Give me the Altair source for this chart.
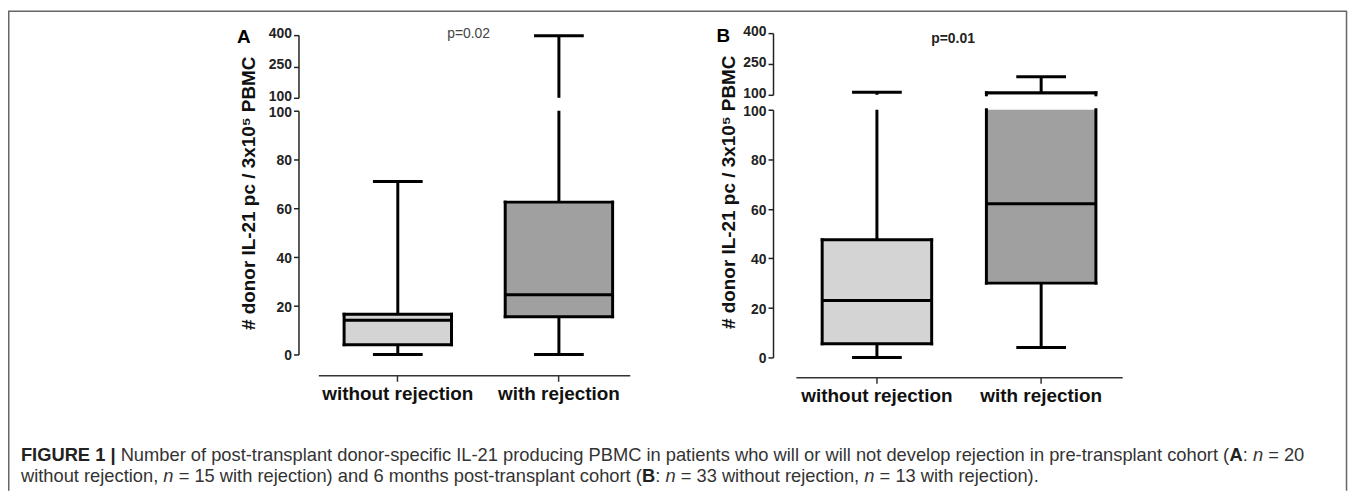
import altair as alt
import pandas as pd

# ---------------- data ----------------
categories = ["without rejection", "with rejection"]
box_fill = ["#d4d4d4", "#a0a0a0"]

a_min = [0, 0]
a_q1 = [4, 15.5]
a_median = [14, 24.5]
a_q3 = [16.5, 62.5]
a_max = [71, 397]

b_min = [0, 4]
b_q1 = [5.5, 30]
b_median = [23, 62]
b_q3 = [47.5, 110]
b_max = [113, 188]

lower_ticks = [0, 20, 40, 60, 80, 100]
upper_ticks = [100, 250, 400]
lower_domain = [0, 100]
upper_domain = [100, 400]
panel_letters = ["A", "B"]
p_values = ["p=0.02", "p=0.01"]
y_title = "# donor IL-21 pc / 3x10\u2075 PBMC"

caption_lines = [
    [("FIGURE 1 | ", "bold"),
     ("Number of post-transplant donor-specific IL-21 producing PBMC in patients who will or will not develop rejection in pre-transplant cohort (", "normal"),
     ("A", "bold"), (": ", "normal"), ("n", "italic"), (" = 20", "normal")],
    [("without rejection, ", "normal"), ("n", "italic"),
     (" = 15 with rejection) and 6 months post-transplant cohort (", "normal"),
     ("B", "bold"), (": ", "normal"), ("n", "italic"),
     (" = 33 without rejection, ", "normal"), ("n", "italic"),
     (" = 13 with rejection).", "normal")],
]

# ---------------- layout / style ----------------
FONT = "Liberation Sans, Arial, Helvetica, sans-serif"
W, H = 1348, 484

geo_a = dict(xr=[312, 625], pi=1 / 3, po=0.133, align=0.6,
             lower=[347, 102], upper=[89, 26], yaxis_x=292, xaxis_y=368)
geo_b = dict(xr=[792, 1120], pi=1 / 3, po=0.16, align=0.5,
             lower=[350, 101], upper=[86, 24], yaxis_x=769, xaxis_y=370)


def band_width(g):
    span = g["xr"][1] - g["xr"][0]
    step = span / (len(categories) - g["pi"] + 2 * g["po"])
    return step * (1 - g["pi"])


def build_segment(stats, lo, hi, g, yr, ticks, show_x, label_shift):
    mn, q1, med, q3, mx = stats
    bw = band_width(g)
    xscale = alt.Scale(type="band", domain=categories, range=g["xr"],
                       paddingInner=g["pi"], paddingOuter=g["po"], align=g["align"])
    if show_x:
        xaxis = alt.Axis(orient="bottom", offset=-(H - g["xaxis_y"]), title=None,
                         labelAngle=0, labelFont=FONT, labelFontSize=19,
                         labelFontWeight="bold", labelColor="#111", labelPadding=3,
                         domainColor="#333", domainWidth=1.5, tickColor="#333",
                         tickWidth=1.5, tickSize=6, grid=False)
    else:
        xaxis = None
    yscale = alt.Scale(domain=[lo, hi], range=yr, nice=False, zero=False)
    yaxis = alt.Axis(orient="left", offset=-g["yaxis_x"], values=ticks, title=None,
                     labelFont=FONT, labelFontSize=14, labelFontWeight="bold",
                     labelColor="#222", labelPadding=2, labelOverlap=False,
                     labelOffset=label_shift,
                     labelFlush=False, domainColor="#222", domainWidth=1.5,
                     tickColor="#222", tickWidth=1.5, tickSize=5, grid=False)

    def X(**kw):
        return alt.X("cat:N", scale=xscale, axis=xaxis, **kw)

    def Y(f):
        return alt.Y(f"{f}:Q", scale=yscale, axis=yaxis)

    boxes, edges, meds, whisk, caps = [], [], [], [], []
    for i, c in enumerate(categories):
        if q3[i] > lo and q1[i] < hi:
            boxes.append(dict(cat=c, y=max(q1[i], lo), y2=min(q3[i], hi), fill=box_fill[i]))
        for v in (q1[i], q3[i]):
            if lo <= v <= hi:
                edges.append(dict(cat=c, v=v))
        if lo <= med[i] <= hi:
            meds.append(dict(cat=c, v=med[i]))
        for a, b in ((mn[i], q1[i]), (q3[i], mx[i])):
            if b > lo and a < hi:
                whisk.append(dict(cat=c, y=max(a, lo), y2=min(b, hi)))
        for v in (mn[i], mx[i]):
            if lo <= v <= hi:
                caps.append(dict(cat=c, v=v))

    layers = []
    if boxes:
        bdf = pd.DataFrame(boxes)
        layers.append(alt.Chart(bdf).mark_bar(strokeWidth=0).encode(
            x=X(), y=Y("y"), y2=alt.Y2("y2:Q"), color=alt.Color("fill:N", scale=None)))
    if whisk:
        layers.append(alt.Chart(pd.DataFrame(whisk)).mark_rule(
            color="black", strokeWidth=3).encode(x=X(), y=Y("y"), y2=alt.Y2("y2:Q")))
    if boxes:
        for bp in (0, 1):
            layers.append(alt.Chart(bdf).mark_rule(
                color="black", strokeWidth=3, strokeCap="square").encode(
                x=X(bandPosition=bp), y=Y("y"), y2=alt.Y2("y2:Q")))
    if edges:
        layers.append(alt.Chart(pd.DataFrame(edges)).mark_tick(
            orient="horizontal", size=bw + 3, thickness=3, color="black", opacity=1).encode(
            x=X(), y=Y("v")))
    if meds:
        layers.append(alt.Chart(pd.DataFrame(meds)).mark_tick(
            orient="horizontal", size=bw, thickness=3, color="black", opacity=1).encode(
            x=X(), y=Y("v")))
    if caps:
        layers.append(alt.Chart(pd.DataFrame(caps)).mark_tick(
            orient="horizontal", size=50, thickness=3, color="black", opacity=1).encode(
            x=X(), y=Y("v")))
    return alt.layer(*layers)


stats_a = (a_min, a_q1, a_median, a_q3, a_max)
stats_b = (b_min, b_q1, b_median, b_q3, b_max)

segments = [
    build_segment(stats_a, *lower_domain, geo_a, geo_a["lower"], lower_ticks, True, 1.5),
    build_segment(stats_a, *upper_domain, geo_a, geo_a["upper"], upper_ticks, False, -1.5),
    build_segment(stats_b, *lower_domain, geo_b, geo_b["lower"], lower_ticks, True, 1.5),
    build_segment(stats_b, *upper_domain, geo_b, geo_b["upper"], upper_ticks, False, -1.5),
]


def text_chart(txt, x, y, size, weight="normal", style="normal", color="#111",
               align="center", baseline="middle", angle=0):
    return alt.Chart(pd.DataFrame({"t": [txt]})).mark_text(
        font=FONT, fontSize=size, fontWeight=weight, fontStyle=style, color=color,
        align=align, baseline=baseline, angle=angle).encode(
        text="t:N", x=alt.value(x), y=alt.value(y))


texts = [
    text_chart(panel_letters[0], 237, 28, 19, "bold", color="#000"),
    text_chart(panel_letters[1], 719, 27, 19, "bold", color="#000"),
    text_chart(p_values[0], 463, 25, 14, color="#444"),
    text_chart(p_values[1], 950, 30, 14, "bold", color="#222"),
    text_chart(y_title, 242, 185, 19, "bold", color="#111", angle=270),
    text_chart(y_title, 725, 184, 19, "bold", color="#111", angle=270),
]

# Helvetica-compatible advance widths for caption layout
REG = {' ': 278, '(': 333, ')': 333, ',': 278, '-': 333, '.': 278, '/': 278, ':': 278,
       '=': 584, '|': 260, 'A': 667, 'B': 667, 'C': 722, 'I': 278, 'L': 556, 'M': 833,
       'N': 722, 'P': 667, 'a': 556, 'b': 556, 'c': 500, 'd': 556, 'e': 556, 'f': 278,
       'g': 556, 'h': 556, 'i': 222, 'j': 222, 'k': 500, 'l': 222, 'm': 833, 'n': 556,
       'o': 556, 'p': 556, 'q': 556, 'r': 333, 's': 500, 't': 278, 'u': 556, 'v': 500,
       'w': 722, 'x': 500, 'y': 500, 'z': 500}
BOLD = {' ': 278, '|': 280, 'A': 722, 'B': 722, 'E': 667, 'F': 611, 'G': 778, 'I': 278,
        'R': 722, 'U': 722}


def tw(s, size, bold):
    tab = BOLD if bold else REG
    return sum(tab.get(ch, REG.get(ch, 556)) for ch in s) * size / 1000


cap_size = 18.4
for line, yb in zip(caption_lines, [454, 475]):
    x = 13
    for txt, st in line:
        bold = st == "bold"
        lead = len(txt) - len(txt.lstrip(" "))
        core = txt.strip(" ")
        if core:
            texts.append(text_chart(core, x + tw(" " * lead, cap_size, bold), yb, cap_size,
                                    "bold" if bold else "normal",
                                    "italic" if st == "italic" else "normal",
                                    color="#222" if bold else "#333",
                                    align="left", baseline="alphabetic"))
        x += tw(txt, cap_size, bold)

frame_df = pd.DataFrame({"k": [0]})
frame = [
    alt.Chart(frame_df).mark_rule(color="#666", strokeWidth=1.5).encode(
        x=alt.value(0.75), y=alt.value(2), y2=alt.value(H)),
    alt.Chart(frame_df).mark_rule(color="#666", strokeWidth=1.5).encode(
        x=alt.value(0), x2=alt.value(1346), y=alt.value(2)),
    alt.Chart(frame_df).mark_rule(color="#666", strokeWidth=1.5).encode(
        x=alt.value(1345.5), y=alt.value(2), y2=alt.value(H)),
]

chart = alt.layer(*segments, *texts, *frame).resolve_scale(
    x="independent", y="independent").resolve_axis(
    x="independent", y="independent").properties(
    width=W, height=H, padding=0,
    autosize=alt.AutoSizeParams(type="none")).configure_view(strokeWidth=0)

chart.save("out.html", embed_options={"renderer": "svg", "actions": False})
